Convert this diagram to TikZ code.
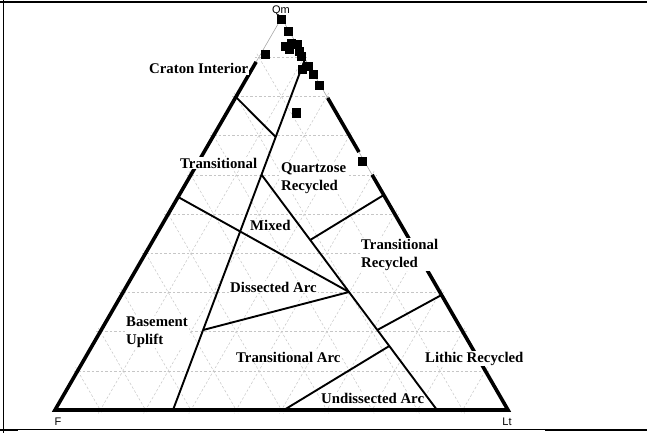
\documentclass[tikz,border=0pt]{standalone}
\usepackage{fontspec}
\setmainfont{Liberation Serif}
\newfontfamily\axisfont{Liberation Sans}
\usetikzlibrary{calc}
\begin{document}
\begin{tikzpicture}[x=1pt,y=-1pt,
  gridline/.style={draw=gray!45, line width=0.5pt, dash pattern=on 2.5pt off 2pt},
  thickside/.style={draw=black, line width=3.6pt},
  thinside/.style={draw=gray!70, line width=0.6pt},
  field/.style={draw=black, line width=1.9pt},
  framethin/.style={draw=black, line width=0.8pt},
  framethick/.style={draw=black, line width=2.5pt},
  lab/.style={font=\fontsize{14.8}{17.5}\selectfont\bfseries, fill=white, inner sep=1pt, align=left, anchor=base west},
  corner/.style={font=\axisfont\fontsize{11}{13}\selectfont, inner sep=0pt},
  datapt/.style={fill=black, rectangle, minimum size=9pt, inner sep=0pt}
]
\useasboundingbox (0,0) rectangle (647,433);
% frame
\draw[framethick] (0,2) -- (647,2);
\draw[framethin] (3,0) -- (3,433);
\draw[framethin] (0,429.5) -- (647,429.5);
\draw[framethick] (0,430) -- (18,430);
\draw[framethick] (545,430) -- (647,430);

% corners
\coordinate (Qm) at (281.5,18);
\coordinate (F) at (55,410);
\coordinate (Lt) at (508,410);

% grid
\foreach \i in {1,...,9} {
  \coordinate (ga) at ($(Qm)!\i/10!(F)$);
  \coordinate (gb) at ($(Qm)!\i/10!(Lt)$);
  \draw[gridline] ($(ga)!-4pt!(gb)$) -- ($(gb)!-4pt!(ga)$);
  \coordinate (gc) at ($(F)!\i/10!(Qm)$);
  \coordinate (gd) at ($(F)!\i/10!(Lt)$);
  \draw[gridline] ($(gc)!-4pt!(gd)$) -- ($(gd)!-4pt!(gc)$);
  \coordinate (ge) at ($(Lt)!\i/10!(Qm)$);
  \coordinate (gf) at ($(Lt)!\i/10!(F)$);
  \draw[gridline] ($(ge)!-4pt!(gf)$) -- ($(gf)!-4pt!(ge)$);
}

% triangle
\draw[thinside] (Qm) -- (F) -- (Lt) -- cycle;
\draw[thickside] ($(Qm)!0.112!(F)$) -- (F) -- (Lt) -- ($(Lt)!0.6!(Qm)$);
\draw[thickside] ($(Qm)!0.204!(Lt)$) -- ($(Qm)!0.342!(Lt)$);

% labels
\node[lab] (craton) at (148,74) {Craton Interior};
\node[lab] (trans) at (179,168) {Transitional};
\node[lab] (qrec) at (280,190) {Quartzose\\Recycled};
\node[lab] (mixed) at (249,230) {Mixed};
\node[lab] (trec) at (360,267) {Transitional\\Recycled};
\node[lab] (darc) at (229,292) {Dissected Arc};
\node[lab] (base) at (125,344) {Basement\\Uplift};
\node[lab] (tarc) at (235,362) {Transitional Arc};
\node[lab] (lrec) at (424,362) {Lithic Recycled};
\node[lab] (uarc) at (320,403) {Undissected Arc};

% field boundaries
\coordinate (B1) at (173,410);
\coordinate (T1) at (305.1,58.8);
\coordinate (C1a) at (235.9,97);
\coordinate (C1b) at (275.7,137);
\coordinate (C2a) at (178.1,197);
\coordinate (J) at (349,292);
\coordinate (A4) at (261.5,174.7);
\coordinate (B4) at (437,410);
\coordinate (D1a) at (203.1,330);
\coordinate (R6a) at (383.8,195);
\coordinate (R6b) at (310.2,240);
\coordinate (R7a) at (441.5,295);
\coordinate (R7b) at (377.3,330);
\coordinate (U1) at (389.3,346);
\coordinate (U2) at (284,410);

\draw[field] (B1) -- (T1);
\draw[field] (C1a) -- (C1b);
\draw[field] (C2a) -- (J);
\draw[field] (A4) -- (B4);
\draw[field] (D1a) -- (J);
\draw[field] (R6a) -- (R6b);
\draw[field] (R7a) -- (R7b);
\draw[field] (U1) -- (U2);

\node[corner] (qmlab) at (281,11) {Qm};
\node[corner] (flab) at (58,422) {F};
\node[corner] (ltlab) at (507,422) {Lt};

% data points
\foreach \p [count=\k] in {(281,20),(288,32),(285,47),(291,44),(297,45),(289,50),(299,52),(301,57),(265,55),(302,70),(308,67),(313,75),(319,86),(296,113),(362,161)} {
  \node[datapt] (d\k) at \p {};
}
\end{tikzpicture}
\end{document}
